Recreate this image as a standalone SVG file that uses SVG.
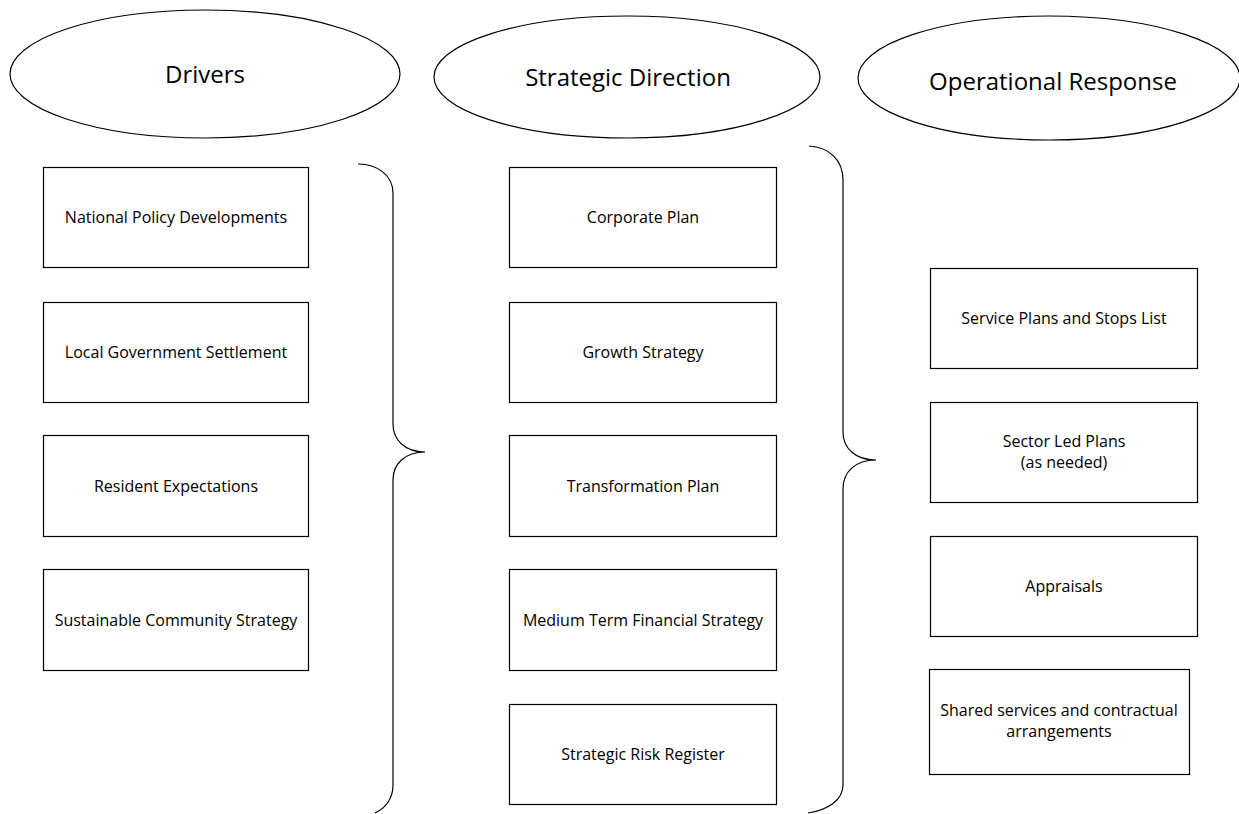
<svg xmlns="http://www.w3.org/2000/svg" width="1239" height="814" viewBox="0 0 1239 814">
  <style>
    .shape { fill: #ffffff; stroke: #000000; stroke-width: 1.2; }
    .brace { fill: none; stroke: #000000; stroke-width: 1.2; }
    .head { font-family: "Open Sans", "Liberation Sans", sans-serif; font-size: 24px; fill: #000000; text-anchor: middle; }
    .label { font-family: "Open Sans", "Liberation Sans", sans-serif; font-size: 16px; fill: #000000; text-anchor: middle; }
  </style>
  <rect width="1239" height="814" fill="#ffffff"/>

  <!-- column headings -->
  <g id="head-drivers">
    <ellipse class="shape" cx="205" cy="74" rx="195" ry="64"/>
    <text class="head" x="205" y="83">Drivers</text>
  </g>
  <g id="head-strategic">
    <ellipse class="shape" cx="627" cy="77" rx="193" ry="61"/>
    <text class="head" x="628" y="86">Strategic Direction</text>
  </g>
  <g id="head-operational">
    <ellipse class="shape" cx="1049" cy="78" rx="191" ry="62"/>
    <text class="head" x="1053" y="90">Operational Response</text>
  </g>

  <!-- drivers -->
  <g id="national-policy">
    <rect class="shape" x="43.5" y="167.5" width="265" height="100"/>
    <text class="label" x="176" y="223">National Policy Developments</text>
  </g>
  <g id="local-gov">
    <rect class="shape" x="43.5" y="302.5" width="265" height="100"/>
    <text class="label" x="176" y="358">Local Government Settlement</text>
  </g>
  <g id="resident">
    <rect class="shape" x="43.5" y="435.5" width="265" height="101"/>
    <text class="label" x="176" y="492">Resident Expectations</text>
  </g>
  <g id="sustainable">
    <rect class="shape" x="43.5" y="569.5" width="265" height="101"/>
    <text class="label" x="176" y="626">Sustainable Community Strategy</text>
  </g>

  <!-- strategic direction -->
  <g id="corporate-plan">
    <rect class="shape" x="509.5" y="167.5" width="267" height="100"/>
    <text class="label" x="643" y="223">Corporate Plan</text>
  </g>
  <g id="growth">
    <rect class="shape" x="509.5" y="302.5" width="267" height="100"/>
    <text class="label" x="643" y="358">Growth Strategy</text>
  </g>
  <g id="transformation">
    <rect class="shape" x="509.5" y="435.5" width="267" height="101"/>
    <text class="label" x="643" y="492">Transformation Plan</text>
  </g>
  <g id="mtfs">
    <rect class="shape" x="509.5" y="569.5" width="267" height="101"/>
    <text class="label" x="643" y="626">Medium Term Financial Strategy</text>
  </g>
  <g id="risk-register">
    <rect class="shape" x="509.5" y="704.5" width="267" height="100"/>
    <text class="label" x="643" y="760">Strategic Risk Register</text>
  </g>

  <!-- operational response -->
  <g id="service-plans">
    <rect class="shape" x="930.5" y="268.5" width="267" height="100"/>
    <text class="label" x="1064" y="324">Service Plans and Stops List</text>
  </g>
  <g id="sector-plans">
    <rect class="shape" x="930.5" y="402.5" width="267" height="100"/>
    <text class="label" x="1064" y="447">Sector Led Plans</text>
    <text class="label" x="1064" y="468">(as needed)</text>
  </g>
  <g id="appraisals">
    <rect class="shape" x="930.5" y="536.5" width="267" height="100"/>
    <text class="label" x="1064" y="592">Appraisals</text>
  </g>
  <g id="shared-services">
    <rect class="shape" x="929.5" y="669.5" width="260" height="105"/>
    <text class="label" x="1059" y="716">Shared services and contractual</text>
    <text class="label" x="1059" y="737">arrangements</text>
  </g>

  <!-- braces linking the columns -->
  <g id="connectors">
    <path class="brace" d="M358,164 C378,164 393,176 393,193 L393,424 C393,440 405,452 425,452 C405,452 393,464 393,480 L393,785 C393,798 386,808 375,813"/>
    <path class="brace" d="M809,146 C829,147 843,160 843,180 L843,432 C843,448 855,460 876,460 C855,460 843,472 843,489 L843,785 C843,800 828,810 808,813"/>
  </g>
</svg>
